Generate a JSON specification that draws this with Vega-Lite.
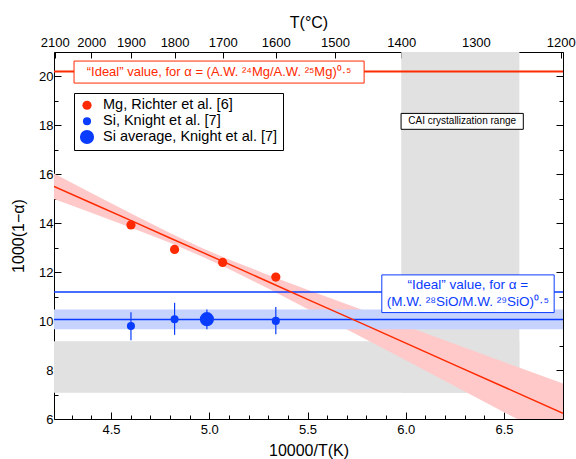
{
  "$schema": "https://vega.github.io/schema/vega-lite/v6.json",
  "width": 509,
  "height": 367,
  "autosize": "none",
  "padding": {"left": 54, "top": 52, "right": 13, "bottom": 40},
  "config": {
    "font": "Liberation Sans",
    "view": {"stroke": "#000", "strokeWidth": 1},
    "axis": {"grid": false, "domain": false, "labelColor": "#000", "titleColor": "#000", "tickColor": "#000", "labelFontSize": 13, "titleFontSize": 16, "titleFontWeight": "normal", "labelOverlap": false, "labelFlush": false}
  },
  "datasets": {
    "bands": [
      {"x": 5.977, "x2": 6.578, "y": 7.07, "y2": 21},
      {"x": 4.21, "x2": 6.578, "y": 7.07, "y2": 9.18}
    ],
    "fit": [
      {"x": 4.21, "fit": 15.51, "lo": 14.99, "hi": 16.03},
      {"x": 4.4, "fit": 14.83, "lo": 14.43, "hi": 15.24},
      {"x": 4.6, "fit": 14.12, "lo": 13.83, "hi": 14.41},
      {"x": 4.8, "fit": 13.40, "lo": 13.20, "hi": 13.60},
      {"x": 4.96, "fit": 12.83, "lo": 12.65, "hi": 13.00},
      {"x": 5.1, "fit": 12.33, "lo": 12.13, "hi": 12.52},
      {"x": 5.3, "fit": 11.61, "lo": 11.33, "hi": 11.89},
      {"x": 5.5, "fit": 10.89, "lo": 10.50, "hi": 11.28},
      {"x": 5.75, "fit": 10.00, "lo": 9.45, "hi": 10.55},
      {"x": 6.0, "fit": 9.10, "lo": 8.40, "hi": 9.80},
      {"x": 6.25, "fit": 8.20, "lo": 7.34, "hi": 9.07},
      {"x": 6.5, "fit": 7.31, "lo": 6.28, "hi": 8.33},
      {"x": 6.8, "fit": 6.23, "lo": 5.01, "hi": 7.45}
    ],
    "avgband": [{"lo": 9.67, "hi": 10.48, "mean": 10.07}],
    "refs": [
      {"name": "Mg ideal", "v": 20.2},
      {"name": "Si ideal", "v": 11.19}
    ],
    "pts": [
      {"series": "Mg, Richter et al. [6]", "x": 4.6016, "y": 13.93},
      {"series": "Mg, Richter et al. [6]", "x": 4.8236, "y": 12.93},
      {"series": "Mg, Richter et al. [6]", "x": 5.0681, "y": 12.40},
      {"series": "Mg, Richter et al. [6]", "x": 5.3387, "y": 11.80},
      {"series": "Si, Knight et al. [7]", "x": 4.6016, "y": 9.80, "lo": 9.22, "hi": 10.36},
      {"series": "Si, Knight et al. [7]", "x": 4.8236, "y": 10.08, "lo": 9.44, "hi": 10.75},
      {"series": "Si, Knight et al. [7]", "x": 5.3387, "y": 10.01, "lo": 9.46, "hi": 10.58},
      {"series": "Si average, Knight et al. [7]", "x": 4.988, "y": 10.08, "lo": 9.67, "hi": 10.48}
    ],
    "notes": [
      {"id": "mg", "x": 4.312, "x2": 5.788, "y": 20.63, "y2": 19.73, "tx": 5.05, "ty": 20.18, "label": "“Ideal” value, for α = (A.W. ²⁴Mg/A.W. ²⁵Mg)⁰·⁵"},
      {"id": "si", "x": 5.878, "x2": 6.755, "y": 11.89, "y2": 10.35, "tx": 6.316, "ty": 11.48, "label": "“Ideal” value, for α =\n(M.W. ²⁸SiO/M.W. ²⁹SiO)⁰·⁵"},
      {"id": "cai", "x": 5.976, "x2": 6.598, "y": 18.49, "y2": 17.84, "tx": 6.287, "ty": 18.17, "label": "CAI crystallization range"}
    ]
  },
  "resolve": {"scale": {"x": "independent", "y": "independent"}, "axis": {"x": "independent", "y": "independent"}},
  "layer": [
    {
      "data": {"name": "bands"},
      "mark": {"type": "rect", "color": "#e1e1e1"},
      "encoding": {
        "x": {"field": "x", "type": "quantitative", "scale": {"domain": [4.21, 6.8], "nice": false, "zero": false},
              "axis": {"orient": "bottom", "values": [4.5, 5, 5.5, 6, 6.5], "format": ".1f", "tickSize": -7, "labelPadding": 11, "title": "10000/T(K)", "titlePadding": 6}},
        "x2": {"field": "x2"},
        "y": {"field": "y", "type": "quantitative", "scale": {"domain": [6, 21], "nice": false, "zero": false},
              "axis": {"orient": "left", "values": [6, 8, 10, 12, 14, 16, 18, 20], "tickSize": -7, "labelPadding": 8, "title": "1000(1−α)", "titlePadding": 12}},
        "y2": {"field": "y2"}
      }
    },
    {
      "data": {"name": "fit"},
      "mark": {"type": "area", "color": "#ffc9c9", "opacity": 1, "clip": true},
      "encoding": {
        "x": {"field": "x", "type": "quantitative", "scale": {"domain": [4.21, 6.8], "nice": false, "zero": false},
              "axis": {"orient": "bottom", "values": [4.3, 4.4, 4.6, 4.7, 4.8, 4.9, 5.1, 5.2, 5.3, 5.4, 5.6, 5.7, 5.8, 5.9, 6.1, 6.2, 6.3, 6.4, 6.6, 6.7], "labels": false, "tickSize": -4, "title": null}},
        "y": {"field": "lo", "type": "quantitative", "scale": {"domain": [6, 21], "nice": false, "zero": false},
              "axis": {"orient": "left", "values": [7, 9, 11, 13, 15, 17, 19, 21], "labels": false, "tickSize": -4, "title": null}},
        "y2": {"field": "hi"}
      }
    },
    {
      "data": {"name": "avgband"},
      "mark": {"type": "rect", "color": "#c6d3ff"},
      "encoding": {
        "y": {"field": "lo", "type": "quantitative", "scale": {"domain": [6, 21], "nice": false, "zero": false},
              "axis": {"orient": "right", "values": [6, 8, 10, 12, 14, 16, 18, 20], "labels": false, "tickSize": -7, "title": null}},
        "y2": {"field": "hi"}
      }
    },
    {
      "data": {"name": "avgband"},
      "mark": {"type": "rule", "color": "#0a3cff", "strokeWidth": 1.5},
      "encoding": {
        "y": {"field": "mean", "type": "quantitative", "scale": {"domain": [6, 21], "nice": false, "zero": false},
              "axis": {"orient": "right", "values": [7, 9, 11, 13, 15, 17, 19, 21], "labels": false, "tickSize": -4, "title": null}}
      }
    },
    {
      "data": {"name": "refs"},
      "transform": [{"filter": "datum.name == 'Si ideal'"}],
      "mark": {"type": "rule", "color": "#0a3cff", "strokeWidth": 1.5},
      "encoding": {
        "y": {"field": "v", "type": "quantitative", "scale": {"domain": [6, 21], "nice": false, "zero": false}, "axis": null}
      }
    },
    {
      "data": {"name": "refs"},
      "transform": [{"filter": "datum.name == 'Mg ideal'"}],
      "mark": {"type": "rule", "color": "#ff2a00", "strokeWidth": 2},
      "encoding": {
        "y": {"field": "v", "type": "quantitative", "scale": {"domain": [6, 21], "nice": false, "zero": false}, "axis": null}
      }
    },
    {
      "data": {"name": "fit"},
      "mark": {"type": "line", "color": "#ff2a00", "strokeWidth": 1.5, "clip": true},
      "encoding": {
        "x": {"field": "x", "type": "quantitative", "scale": {"domain": [4.21, 6.8], "nice": false, "zero": false},
              "axis": {"orient": "top", "values": [4.2138, 4.3993, 4.6016, 4.8236, 5.0681, 5.3387, 5.6397, 5.9767, 6.3566, 6.7882], "labelExpr": "format(round(10000/datum.value - 273.15), 'd')", "tickSize": -6, "labelPadding": 9, "title": "T(°C)", "titlePadding": 6}},
        "y": {"field": "fit", "type": "quantitative", "scale": {"domain": [6, 21], "nice": false, "zero": false}, "axis": null}
      }
    },
    {
      "data": {"name": "pts"},
      "transform": [{"filter": "isValid(datum.lo)"}],
      "mark": {"type": "rule", "color": "#0a3cff", "strokeWidth": 1.2},
      "encoding": {
        "x": {"field": "x", "type": "quantitative", "scale": {"domain": [4.21, 6.8], "nice": false, "zero": false}, "axis": null},
        "y": {"field": "lo", "type": "quantitative", "scale": {"domain": [6, 21], "nice": false, "zero": false}, "axis": null},
        "y2": {"field": "hi"}
      }
    },
    {
      "data": {"name": "pts"},
      "mark": {"type": "circle", "opacity": 1},
      "encoding": {
        "x": {"field": "x", "type": "quantitative", "scale": {"domain": [4.21, 6.8], "nice": false, "zero": false}, "axis": null},
        "y": {"field": "y", "type": "quantitative", "scale": {"domain": [6, 21], "nice": false, "zero": false}, "axis": null},
        "color": {"field": "series", "type": "nominal",
                  "scale": {"domain": ["Mg, Richter et al. [6]", "Si, Knight et al. [7]", "Si average, Knight et al. [7]"], "range": ["#ff2a00", "#0a3cff", "#0a3cff"]},
                  "legend": {"orient": "none", "legendX": 20, "legendY": 41, "title": null, "strokeColor": "#000", "fillColor": "#fff", "padding": 5, "labelFontSize": 14.5, "labelLimit": 400, "labelColor": "#000", "symbolType": "circle", "rowPadding": 1, "labelOffset": 8}},
        "size": {"field": "series", "type": "nominal",
                 "scale": {"type": "ordinal", "domain": ["Mg, Richter et al. [6]", "Si, Knight et al. [7]", "Si average, Knight et al. [7]"], "range": [85, 65, 200]},
                 "legend": {"orient": "none", "legendX": 20, "legendY": 41, "title": null, "strokeColor": "#000", "fillColor": "#fff", "padding": 5, "labelFontSize": 14.5, "labelLimit": 400, "labelColor": "#000", "symbolType": "circle", "rowPadding": 1, "labelOffset": 8}}
      }
    },
    {
      "data": {"name": "notes"},
      "transform": [{"filter": "datum.id == 'mg'"}],
      "layer": [
        {"mark": {"type": "rect", "fill": "#fff", "stroke": "#ff2a00", "strokeWidth": 1}},
        {"mark": {"type": "text", "color": "#ff2a00", "fontSize": 13, "align": "center", "baseline": "middle"},
         "encoding": {"x": {"field": "tx", "type": "quantitative", "scale": {"domain": [4.21, 6.8], "nice": false, "zero": false}, "axis": null},
                      "y": {"field": "ty", "type": "quantitative", "scale": {"domain": [6, 21], "nice": false, "zero": false}, "axis": null},
                      "text": {"field": "label"}}}
      ],
      "encoding": {
        "x": {"field": "x", "type": "quantitative", "scale": {"domain": [4.21, 6.8], "nice": false, "zero": false}, "axis": null},
        "x2": {"field": "x2"},
        "y": {"field": "y", "type": "quantitative", "scale": {"domain": [6, 21], "nice": false, "zero": false}, "axis": null},
        "y2": {"field": "y2"}
      }
    },
    {
      "data": {"name": "notes"},
      "transform": [{"filter": "datum.id == 'si'"}],
      "layer": [
        {"mark": {"type": "rect", "fill": "#fff", "stroke": "#0a3cff", "strokeWidth": 1}},
        {"mark": {"type": "text", "color": "#0a3cff", "fontSize": 13.5, "align": "center", "baseline": "middle", "lineBreak": "\n", "lineHeight": 17},
         "encoding": {"x": {"field": "tx", "type": "quantitative", "scale": {"domain": [4.21, 6.8], "nice": false, "zero": false}, "axis": null},
                      "y": {"field": "ty", "type": "quantitative", "scale": {"domain": [6, 21], "nice": false, "zero": false}, "axis": null},
                      "text": {"field": "label"}}}
      ],
      "encoding": {
        "x": {"field": "x", "type": "quantitative", "scale": {"domain": [4.21, 6.8], "nice": false, "zero": false}, "axis": null},
        "x2": {"field": "x2"},
        "y": {"field": "y", "type": "quantitative", "scale": {"domain": [6, 21], "nice": false, "zero": false}, "axis": null},
        "y2": {"field": "y2"}
      }
    },
    {
      "data": {"name": "notes"},
      "transform": [{"filter": "datum.id == 'cai'"}],
      "layer": [
        {"mark": {"type": "rect", "fill": "#fff", "stroke": "#000", "strokeWidth": 1}},
        {"mark": {"type": "text", "color": "#000", "fontSize": 10, "align": "center", "baseline": "middle"},
         "encoding": {"x": {"field": "tx", "type": "quantitative", "scale": {"domain": [4.21, 6.8], "nice": false, "zero": false}, "axis": null},
                      "y": {"field": "ty", "type": "quantitative", "scale": {"domain": [6, 21], "nice": false, "zero": false}, "axis": null},
                      "text": {"field": "label"}}}
      ],
      "encoding": {
        "x": {"field": "x", "type": "quantitative", "scale": {"domain": [4.21, 6.8], "nice": false, "zero": false}, "axis": null},
        "x2": {"field": "x2"},
        "y": {"field": "y", "type": "quantitative", "scale": {"domain": [6, 21], "nice": false, "zero": false}, "axis": null},
        "y2": {"field": "y2"}
      }
    }
  ]
}
